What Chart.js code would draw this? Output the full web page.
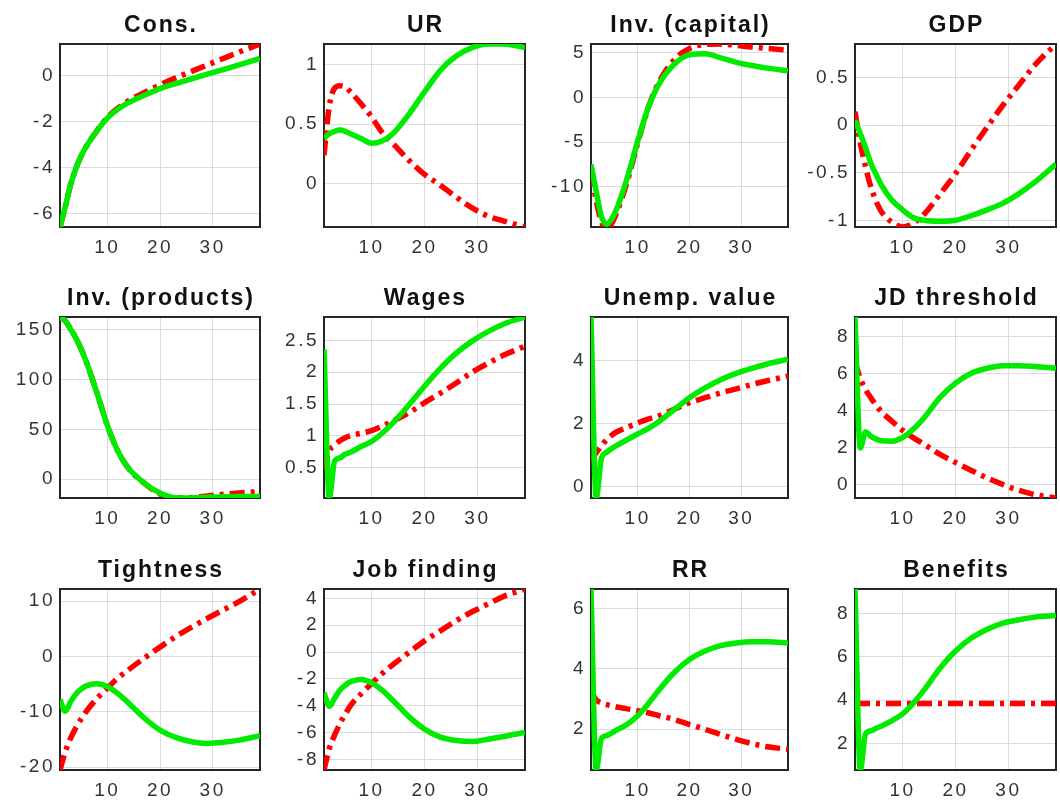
<!DOCTYPE html>
<html>
<head>
<meta charset="utf-8">
<script src="https://cdn.jsdelivr.net/npm/chart.js@4.4.1/dist/chart.umd.min.js"></script>
<style>
  html, body { margin: 0; padding: 0; background: #ffffff; }
  #fig { position: relative; width: 1060px; height: 804px; overflow: hidden; background: #ffffff; }
  #fig canvas { position: absolute; }
</style>
</head>
<body>
<div id="fig"></div>
<script>
// Horizon (periods) shared by every panel
const periods = [1, 2, 3, 4, 5, 6, 8, 10, 12, 14, 17, 20, 23, 26, 29, 32, 35, 39];
const xTicks = [10, 20, 30];

const titles = ['Cons.', 'UR', 'Inv. (capital)', 'GDP',
                'Inv. (products)', 'Wages', 'Unemp. value', 'JD threshold',
                'Tightness', 'Job finding', 'RR', 'Benefits'];

// Solid (green) and dash-dot (red) responses, one pair per panel
const consSolid   = [-6.58, -5.7, -4.75, -4.05, -3.5, -3.08, -2.4, -1.85, -1.46, -1.18, -0.86, -0.57, -0.35, -0.14, 0.06, 0.26, 0.46, 0.74];
const consDash    = [-6.58, -5.7, -4.75, -4.05, -3.5, -3.08, -2.4, -1.82, -1.42, -1.1, -0.74, -0.4, -0.1, 0.18, 0.46, 0.74, 1.02, 1.37];

const urSolid     = [0.38, 0.42, 0.44, 0.45, 0.44, 0.42, 0.38, 0.34, 0.36, 0.42, 0.58, 0.77, 0.95, 1.07, 1.14, 1.17, 1.17, 1.14];
const urDash      = [0.24, 0.65, 0.8, 0.82, 0.81, 0.77, 0.67, 0.56, 0.43, 0.34, 0.2, 0.08, -0.01, -0.11, -0.2, -0.27, -0.31, -0.36];

const invkSolid   = [-7.5, -10.5, -13.3, -14.2, -13.6, -12.4, -9.0, -4.9, -1.2, 1.4, 3.7, 4.8, 4.9, 4.45, 3.95, 3.6, 3.3, 3.0];
const invkDash    = [-8.3, -11.5, -13.9, -14.5, -14.1, -12.8, -9.4, -5.1, -1.2, 1.6, 4.2, 5.5, 5.95, 6.0, 5.85, 5.65, 5.5, 5.3];

const gdpSolid    = [0.05, -0.09, -0.24, -0.4, -0.52, -0.63, -0.79, -0.89, -0.97, -1.0, -1.01, -1.0, -0.95, -0.89, -0.82, -0.72, -0.6, -0.41];
const gdpDash     = [0.14, -0.19, -0.44, -0.65, -0.8, -0.91, -1.02, -1.07, -1.03, -0.94, -0.73, -0.51, -0.26, -0.02, 0.21, 0.42, 0.63, 0.85];

const invpSolid   = [163, 159, 151, 142, 131, 118, 87, 54, 28, 11, -4, -14, -18.8, -19, -18.2, -17.7, -17.4, -17.4];
const invpDash    = [163, 159, 151, 142, 131, 118, 87, 54, 28, 11, -4, -15, -18.8, -18.6, -17, -15.3, -13.9, -12.5];

const wageSolid   = [2.36, 0.03, 0.6, 0.65, 0.71, 0.74, 0.83, 0.91, 1.04, 1.2, 1.48, 1.78, 2.06, 2.3, 2.49, 2.64, 2.76, 2.87];
const wageDash    = [0.46, 0.76, 0.85, 0.92, 0.97, 1.0, 1.04, 1.08, 1.15, 1.23, 1.36, 1.52, 1.67, 1.83, 2.0, 2.14, 2.27, 2.41];

const uvalSolid   = [5.39, -0.35, 0.9, 1.1, 1.22, 1.32, 1.5, 1.68, 1.85, 2.06, 2.45, 2.83, 3.14, 3.4, 3.6, 3.76, 3.9, 4.05];
const uvalDash    = [0.84, 1.08, 1.3, 1.5, 1.64, 1.75, 1.89, 2.03, 2.15, 2.25, 2.46, 2.67, 2.83, 2.98, 3.11, 3.25, 3.37, 3.51];

const jdSolid     = [9.07, 2.0, 2.85, 2.62, 2.47, 2.38, 2.36, 2.56, 3.0, 3.6, 4.7, 5.5, 6.03, 6.3, 6.43, 6.44, 6.4, 6.3];
const jdDash      = [6.66, 5.75, 5.15, 4.7, 4.3, 3.95, 3.43, 2.95, 2.55, 2.2, 1.66, 1.21, 0.78, 0.37, 0.01, -0.3, -0.53, -0.71];

const tightSolid  = [-7.8, -9.9, -8.2, -6.8, -5.9, -5.3, -4.9, -5.4, -6.7, -8.4, -11.1, -13.3, -14.6, -15.4, -15.7, -15.5, -15.1, -14.3];
const tightDash   = [-20.5, -17.2, -14.8, -12.9, -11.3, -9.9, -7.6, -5.7, -3.9, -2.4, -0.3, 1.7, 3.6, 5.3, 6.9, 8.4, 9.9, 12.2];

const jobfSolid   = [-3.05, -4.05, -3.45, -2.85, -2.48, -2.22, -2.05, -2.3, -2.85, -3.6, -4.8, -5.75, -6.35, -6.6, -6.68, -6.5, -6.3, -6.0];
const jobfDash    = [-8.8, -7.2, -6.2, -5.35, -4.65, -4.0, -3.12, -2.35, -1.6, -0.95, -0.05, 0.83, 1.58, 2.33, 3.0, 3.58, 4.15, 4.7];

const rrSolid     = [6.65, 0.64, 1.68, 1.78, 1.87, 1.97, 2.16, 2.44, 2.83, 3.27, 3.87, 4.31, 4.59, 4.77, 4.86, 4.9, 4.9, 4.86];
const rrDash      = [3.26, 2.97, 2.86, 2.81, 2.77, 2.73, 2.67, 2.61, 2.54, 2.45, 2.32, 2.15, 1.99, 1.82, 1.66, 1.52, 1.41, 1.33];

const benSolid    = [9.14, 0.77, 2.45, 2.58, 2.7, 2.8, 3.05, 3.36, 3.85, 4.45, 5.45, 6.27, 6.87, 7.28, 7.56, 7.72, 7.84, 7.91];
const benDash     = [3.85, 3.85, 3.85, 3.85, 3.85, 3.85, 3.85, 3.85, 3.85, 3.85, 3.85, 3.85, 3.85, 3.85, 3.85, 3.85, 3.85, 3.85];

const solidSeries = [consSolid, urSolid, invkSolid, gdpSolid, invpSolid, wageSolid, uvalSolid, jdSolid, tightSolid, jobfSolid, rrSolid, benSolid];
const dashSeries  = [consDash, urDash, invkDash, gdpDash, invpDash, wageDash, uvalDash, jdDash, tightDash, jobfDash, rrDash, benDash];

// y tick labels per panel
const yTickValues = [
  [-6, -4, -2, 0], [0, 0.5, 1], [-10, -5, 0, 5], [-1, -0.5, 0, 0.5],
  [0, 50, 100, 150], [0.5, 1, 1.5, 2, 2.5], [0, 2, 4], [0, 2, 4, 6, 8],
  [-20, -10, 0, 10], [-8, -6, -4, -2, 0, 2, 4], [2, 4, 6], [2, 4, 6, 8]
];
// y limits (tight to the data)
const yMin = [-6.58, -0.36, -14.5, -1.07, -19, 0.02, -0.35, -0.71, -20.5, -8.8, 0.64, 0.77];
const yMax = [1.37, 1.17, 6.0, 0.85, 163, 2.87, 5.39, 9.07, 12.2, 4.7, 6.65, 9.14];

// ---- layout of the 3 x 4 grid of axes boxes (page pixels) ----
const colLeft  = [60, 324, 591, 855];
const colRight = [260, 525, 788, 1056];
const rowTop    = [44, 317, 589];
const rowBottom = [227, 498, 770];

const SOLID_COLOR = 'rgb(0, 235, 0)';
const DASH_COLOR  = 'rgb(255, 0, 0)';
const GRID_COLOR  = '#dcdcdc';
const TICK_COLOR  = '#333333';
const FONT = '"Liberation Sans", Arial, Helvetica, sans-serif';

// draws the axes box and panel title
const axesFrame = {
  id: 'axesFrame',
  beforeDraw(chart) {
    chart.ctx.letterSpacing = '2.5px';
  },
  beforeDatasetsDraw(chart) {
    const { ctx, chartArea: a } = chart;
    ctx.save();
    ctx.strokeStyle = '#262626';
    ctx.lineWidth = 2;
    ctx.strokeRect(a.left, a.top, a.right - a.left, a.bottom - a.top);
    ctx.restore();
  },
  afterDraw(chart, args, opts) {
    const { ctx, chartArea: a } = chart;
    ctx.save();
    ctx.letterSpacing = '2px';
    ctx.font = 'bold 23px ' + FONT;
    ctx.fillStyle = '#111111';
    ctx.textAlign = 'center';
    ctx.textBaseline = 'alphabetic';
    ctx.fillText(opts.title, (a.left + a.right) / 2 + 1, a.top - 12);
    ctx.restore();
  }
};

const fig = document.getElementById('fig');
const PAD_L = 60, PAD_T = 45, PAD_R = 8, PAD_B = 40;

titles.forEach((title, i) => {
  const col = i % 4, row = Math.floor(i / 4);
  const boxL = colLeft[col], boxR = colRight[col], boxT = rowTop[row], boxB = rowBottom[row];
  const w = boxR - boxL + PAD_L + PAD_R;
  const h = boxB - boxT + PAD_T + PAD_B;
  const canvas = document.createElement('canvas');
  canvas.width = w; canvas.height = h;
  canvas.style.left = (boxL - PAD_L) + 'px';
  canvas.style.top = (boxT - PAD_T) + 'px';
  canvas.style.width = w + 'px';
  canvas.style.height = h + 'px';
  fig.appendChild(canvas);

  const toPoints = arr => periods.map((x, k) => ({ x: x, y: arr[k] }));

  new Chart(canvas, {
    type: 'line',
    data: {
      datasets: [
        {
          label: 'solid',
          data: toPoints(solidSeries[i]),
          borderColor: SOLID_COLOR,
          borderWidth: 5.5,
          pointRadius: 0,
          cubicInterpolationMode: 'monotone',
          fill: false,
          order: 0
        },
        {
          label: 'dash-dot',
          data: toPoints(dashSeries[i]),
          borderColor: DASH_COLOR,
          borderWidth: 5.5,
          borderDash: [15, 6, 4, 6],
          pointRadius: 0,
          cubicInterpolationMode: 'monotone',
          fill: false,
          order: 1
        }
      ]
    },
    options: {
      responsive: false,
      animation: false,
      devicePixelRatio: 1,
      events: [],
      layout: { padding: { left: 0, top: PAD_T, right: PAD_R, bottom: 0 } },
      plugins: {
        legend: { display: false },
        tooltip: { enabled: false },
        axesFrame: { title: title }
      },
      scales: {
        x: {
          type: 'linear',
          min: 1,
          max: 39,
          afterBuildTicks: s => { s.ticks = xTicks.map(v => ({ value: v })); },
          afterFit: s => { s.height = PAD_B; },
          border: { display: false },
          grid: { color: GRID_COLOR, lineWidth: 1, drawTicks: false },
          ticks: {
            autoSkip: false, maxRotation: 0, padding: 9,
            color: TICK_COLOR,
            font: { family: FONT, size: 19 }
          }
        },
        y: {
          type: 'linear',
          min: yMin[i],
          max: yMax[i],
          afterBuildTicks: s => { s.ticks = yTickValues[i].map(v => ({ value: v })); },
          afterFit: s => { s.width = PAD_L; },
          border: { display: false },
          grid: { color: GRID_COLOR, lineWidth: 1, drawTicks: false },
          ticks: {
            autoSkip: false, padding: 5,
            color: TICK_COLOR,
            font: { family: FONT, size: 19 },
            callback: v => String(v)
          }
        }
      }
    },
    plugins: [axesFrame]
  });
});
</script>
</body>
</html>
